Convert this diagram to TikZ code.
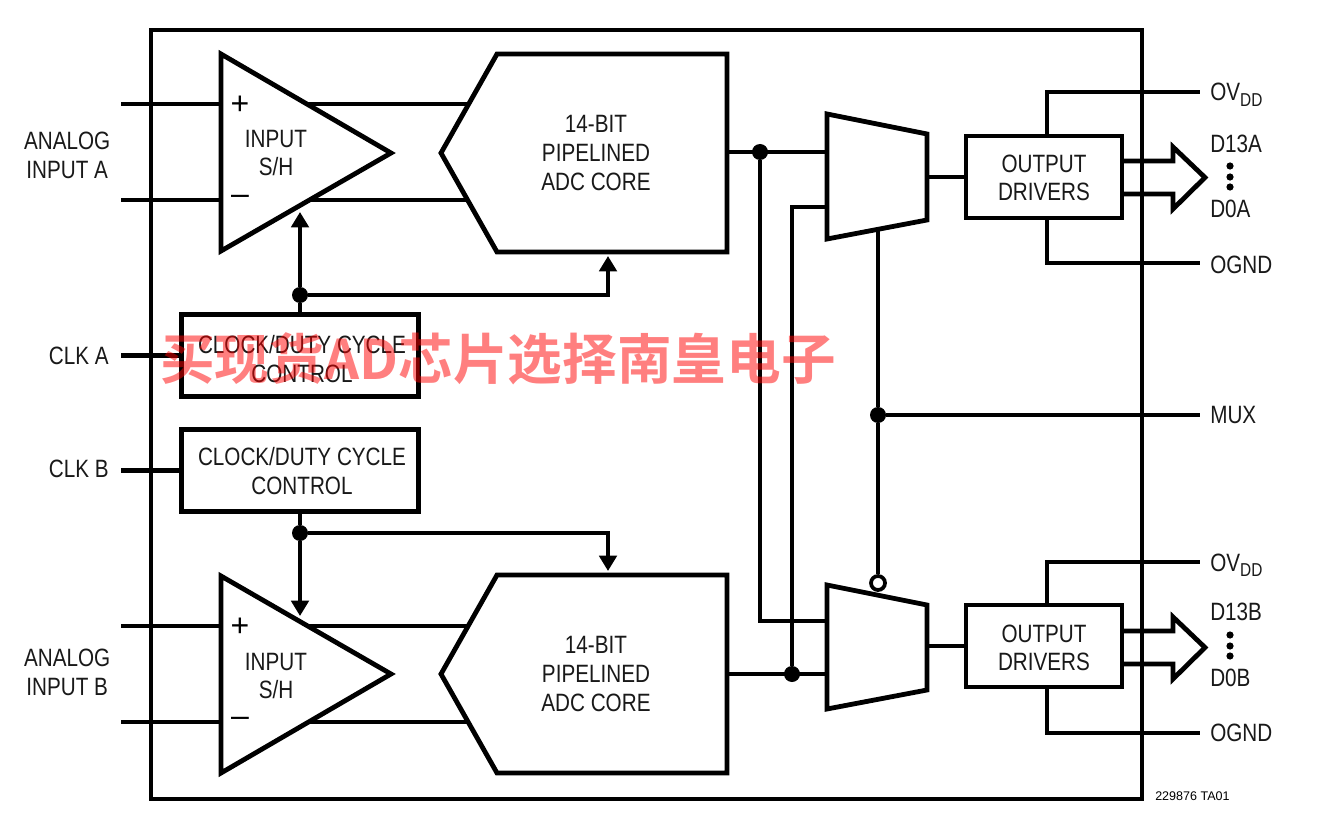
\documentclass[tikz,border=0pt]{standalone}
\usepackage{fontspec}
\setmainfont[FakeStretch=0.825]{Liberation Sans}
\newfontfamily\plainfont{Liberation Sans}
\newfontfamily\cjkfont{Noto Sans CJK SC Bold}
\usetikzlibrary{arrows.meta}
\newcommand{\subDD}{\raisebox{-3.8pt}{\fontsize{14pt}{14pt}\selectfont DD}}
\tikzset{
  x=0.75pt,y=-0.75pt,
  wire/.style={line width=3.2pt,line cap=butt,line join=miter},
  blk/.style={line width=3.6pt,line join=miter,fill=white},
  arr/.style={wire,-{Triangle[length=11.5pt,width=13pt]}},
  dotn/.style={circle,fill=black,inner sep=0pt,minimum size=12pt},
  txt/.style={font=\fontsize{18.8pt}{21.5pt}\selectfont,align=center,inner sep=0pt,text=black!90},
  sign/.style={inner sep=0pt,text=black,font=\plainfont\fontsize{24pt}{24pt}\selectfont},
  blockbox/.style={draw,line width=3.6pt,fill=white,inner sep=0pt},
  bub/.style={circle,draw,line width=2.8pt,fill=white,inner sep=0pt,minimum size=10.5pt},
}
\begin{document}
\begin{tikzpicture}
\useasboundingbox (0,0) rectangle (1325,820);
% outer frame
\draw[line width=3.6pt] (151,30) rectangle (1142,799);
% coordinates
\coordinate (ia1) at (121,104); \coordinate (ia2) at (121,200);
\coordinate (ib1) at (121,626); \coordinate (ib2) at (121,722);
\coordinate (ca) at (121,355.5); \coordinate (cb) at (121,470.5);
% input wires
\draw[wire] (ia1) -- (470,104);
\draw[wire] (ia2) -- (470,200);
\draw[wire] (ib1) -- (470,626);
\draw[wire] (ib2) -- (470,722);
% amps
\draw[blk] (221,54) -- (391,153) -- (221,251) -- cycle;
\draw[blk] (221,576) -- (391,674) -- (221,773) -- cycle;
% ADCs
\draw[blk] (497,54) -- (727,54) -- (727,252) -- (497,252) -- (441,153) -- cycle;
\draw[blk] (497,575) -- (727,575) -- (727,773) -- (497,773) -- (441,674) -- cycle;
% clock blocks
\node[blockbox,minimum width=237pt*0.75,minimum height=82pt*0.75] (ckA) at (300,355.5) {};
\node[blockbox,minimum width=237pt*0.75,minimum height=82pt*0.75] (ckB) at (300,470.5) {};
\draw[wire] (ca) -- (ckA.west);
\draw[wire] (cb) -- (ckB.west);
% clock A routing
\node[dotn] (ja) at (300,295) {};
\coordinate (ampAt) at (300,212);
\coordinate (adcAb) at (608,256);
\draw[wire] (ckA.north) -- (ja);
\draw[arr] (ja) -- (ampAt);
\draw[arr] (ja) -| (adcAb);
% clock B routing
\node[dotn] (jb) at (300,533) {};
\coordinate (ampBt) at (300,616);
\coordinate (adcBt) at (608,571);
\draw[wire] (ckB.south) -- (jb);
\draw[arr] (jb) -- (ampBt);
\draw[arr] (jb) -| (adcBt);
% muxes
\draw[blk] (827,114) -- (927,134) -- (927,220) -- (827,239) -- cycle;
\draw[blk] (827,585) -- (927,605) -- (927,690) -- (827,709) -- cycle;
% data routing
\node[dotn] (d1) at (760,152) {};
\node[dotn] (d2) at (792,674) {};
\draw[wire] (727,152) -- (827,152);
\draw[wire] (727,674) -- (827,674);
\draw[wire] (d1) -- (760,621) -- (827,621);
\draw[wire] (d2) -- (792,207) -- (827,207);
% mux select
\node[dotn] (sel) at (878,415) {};
\node[bub] (sb) at (878,583) {};
\coordinate (muxAb) at (878,229);
\coordinate (muxo) at (1200,415);
\draw[wire] (muxAb) -- (sel);
\draw[wire] (sel) -- (sb);
\draw[wire] (sel) -- (muxo);
% output drivers
\node[blockbox,minimum width=156pt*0.75,minimum height=82pt*0.75] (odA) at (1044,177) {};
\node[blockbox,minimum width=156pt*0.75,minimum height=82pt*0.75] (odB) at (1044,646) {};
\draw[wire] (927,177) -- (odA.west);
\draw[wire] (927,646) -- (odB.west);
% supplies
\coordinate (va) at (1200,92); \coordinate (ga) at (1200,263);
\coordinate (vb) at (1200,562); \coordinate (gb) at (1200,733);
\coordinate (sa1) at (1047,136); \coordinate (sa2) at (1047,218);
\coordinate (sb1) at (1047,605); \coordinate (sb2) at (1047,687);
\draw[wire] (sa1) |- (va);
\draw[wire] (sa2) |- (ga);
\draw[wire] (sb1) |- (vb);
\draw[wire] (sb2) |- (gb);
% bus arrows
\draw[wire,line width=3.6pt] (1122,161) -- (1173,161) -- (1173,147) -- (1205,177.5) -- (1173,209) -- (1173,194) -- (1122,194);
\draw[wire,line width=3.6pt] (1122,631) -- (1173,631) -- (1173,617) -- (1205,647.5) -- (1173,679) -- (1173,664) -- (1122,664);
% bus dots
\foreach \y in {166,177,187} \fill (1230,\y) circle (2.7pt);
\foreach \y in {635,646,656} \fill (1230,\y) circle (2.7pt);
% plus/minus
\node[sign] (pa) at (240,105) {+};
\node[sign] (ma) at (240,200) {–};
\node[sign] (pb) at (240,627) {+};
\node[sign] (mb) at (240,722) {–};
% labels
\node[txt] (t1) at (276,153) {INPUT\\S/H};
\node[txt] (t2) at (276,676) {INPUT\\S/H};
\node[txt] (t3) at (596,153) {14-BIT\\PIPELINED\\ADC CORE};
\node[txt] (t4) at (596,674) {14-BIT\\PIPELINED\\ADC CORE};
\node[txt] (t5) at (302,359) {CLOCK/DUTY CYCLE\\CONTROL};
\node[txt] (t6) at (302,471) {CLOCK/DUTY CYCLE\\CONTROL};
\node[txt] (t7) at (1044,178) {OUTPUT\\DRIVERS};
\node[txt] (t8) at (1044,648) {OUTPUT\\DRIVERS};
\node[txt,anchor=east] (l1) at (110.5,158) {\begin{tabular}{@{}c@{}}ANALOG\\[0.5pt]INPUT A\end{tabular}};
\node[txt,anchor=east] (l2) at (110.5,675.5) {\begin{tabular}{@{}c@{}}ANALOG\\[0.5pt]INPUT B\end{tabular}};
\node[txt,anchor=east] (l3) at (109,356) {CLK A};
\node[txt,anchor=east] (l4) at (109,469) {CLK B};
\node[txt,anchor=base west] (r1) at (1210,101) {OV\subDD};
\node[txt,anchor=west] (r2) at (1210,144) {D13A};
\node[txt,anchor=west] (r3) at (1210,209) {D0A};
\node[txt,anchor=west] (r4) at (1210,265) {OGND};
\node[txt,anchor=west] (r5) at (1210,415) {MUX};
\node[txt,anchor=base west] (r6) at (1210,571) {OV\subDD};
\node[txt,anchor=west] (r7) at (1210,612) {D13B};
\node[txt,anchor=west] (r8) at (1210,678) {D0B};
\node[txt,anchor=west] (r9) at (1210,733) {OGND};
\node[anchor=west,inner sep=0pt,font=\plainfont\fontsize{9.4pt}{9.4pt}\selectfont] (code) at (1155,796) {229876 TA01};
% watermark
\node[anchor=center,inner sep=0pt,text=red,opacity=0.5,font=\cjkfont\fontsize{41pt}{41pt}\selectfont] (wm) at (498,359) {买现货AD芯片选择南皇电子};
\end{tikzpicture}
\end{document}
